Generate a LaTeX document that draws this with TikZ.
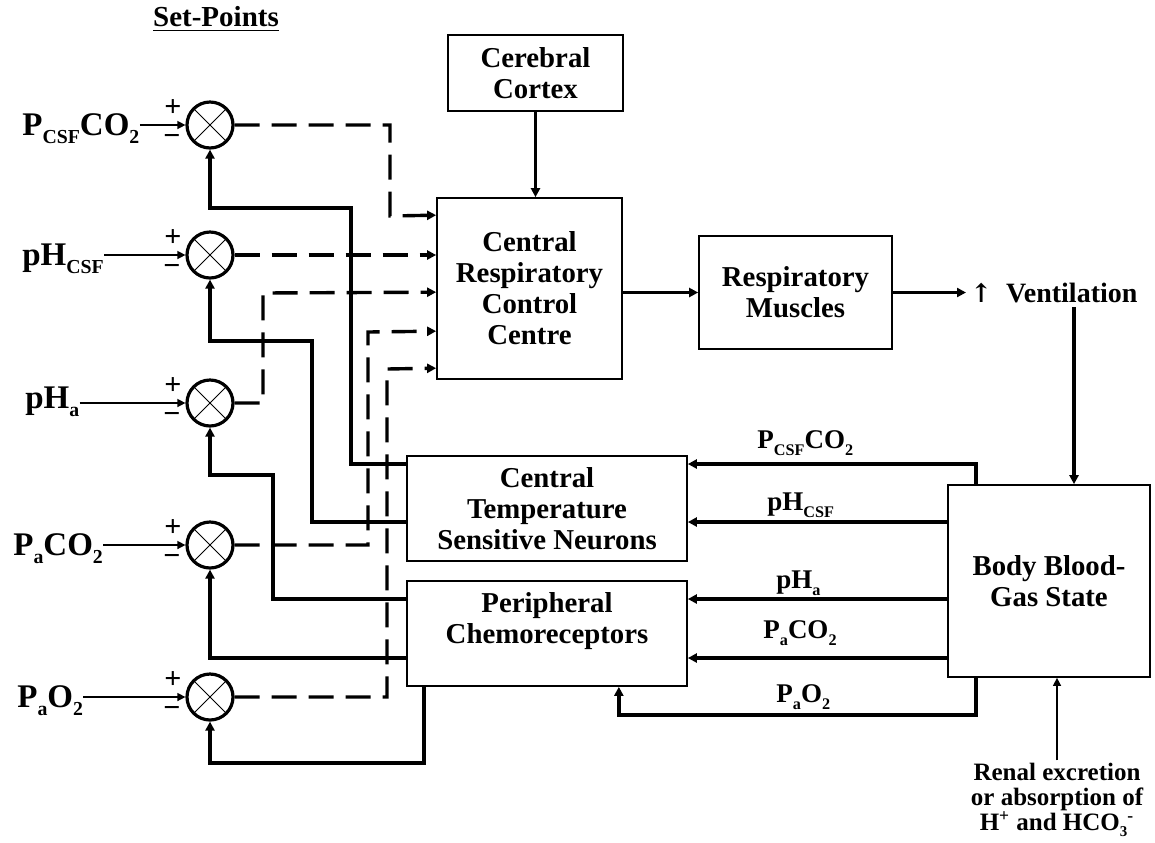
\documentclass[tikz,border=0pt]{standalone}
\usepackage{fontspec}
\setmainfont{Liberation Serif}
\newfontfamily\arrowfont{DejaVu Serif}
\usetikzlibrary{arrows.meta}

\newcommand{\lo}[1]{\raisebox{-0.27em}{\fontsize{0.6em}{0.6em}\selectfont #1}}
\newcommand{\renalfont}{\bfseries\fontsize{12.5}{12.5}\selectfont}

\begin{document}
\begin{tikzpicture}[
  x=0.5pt, y=-0.5pt,
  >={Triangle[length=4.5pt,width=4.5pt]},
  every node/.style={font=\bfseries\fontsize{14.4}{15.5}\selectfont, inner sep=1pt},
  block/.style={draw, line width=0.85pt, align=center, inner sep=0pt},
  sum/.style={circle, draw, line width=1.6pt, minimum size=23pt, inner sep=0pt,
    path picture={\draw[line width=0.4pt]
      (path picture bounding box.north west) -- (path picture bounding box.south east)
      (path picture bounding box.north east) -- (path picture bounding box.south west);}},
  sign/.style={font=\bfseries\fontsize{15}{15}\selectfont, inner sep=0pt},
  setlabel/.style={font=\bfseries\fontsize{16.5}{18}\selectfont, anchor=base west, inner sep=0pt},
  siglabel/.style={font=\bfseries\fontsize{13.5}{15}\selectfont, anchor=base west, inner sep=0pt},
  signal/.style={line width=1.7pt},
  neural/.style={line width=1.7pt, dash pattern=on 12.5pt off 6pt},
  input/.style={line width=0.7pt, >={Triangle[length=4pt,width=4pt]}},
]
\useasboundingbox (0,0) rectangle (1155,842);

\node[font=\bfseries\fontsize{14.5}{16}\selectfont] (setpts) at (216,19) {\underline{Set-Points}};

% comparators
\foreach \n/\y in {1/125,2/255,3/403,4/545,5/697}{
  \node[sum] (s\n) at (210,\y) {};
  \node[sign] (p\n) at ([xshift=-18.5pt,yshift=8.5pt]s\n.center) {+};
  \node[sign] (m\n) at ([xshift=-19pt,yshift=-7.5pt]s\n.center) {−};
}

\node[setlabel] (in1) at (22,135) {P\lo{CSF}CO\lo{2}};
\node[setlabel] (in2) at (22,265) {pH\lo{CSF}};
\node[setlabel] (in3) at (25,408) {pH\lo{a}};
\node[setlabel] (in4) at (13,555) {P\lo{a}CO\lo{2}};
\node[setlabel] (in5) at (17,707) {P\lo{a}O\lo{2}};
\foreach \n in {1,...,5}
  \draw[input,->] (in\n.east |- s\n.west) -- (s\n.west);

% blocks
\node[block, minimum width=87.5pt, minimum height=38pt] (cortex) at (535.5,73) {Cerebral\\Cortex};
\node[block, minimum width=92.5pt, minimum height=90.5pt] (crcc) at (529.5,288.5) {Central\\Respiratory\\Control\\Centre};
\node[block, minimum width=96.5pt, minimum height=56.5pt] (muscles) at (795.5,292.5) {Respiratory\\Muscles};
\node[block, minimum width=140pt, minimum height=52.5pt] (ctsn) at (547,508.5) {Central\\Temperature\\Sensitive Neurons};
\node[block, minimum width=140pt, minimum height=52.5pt] (pc) at (547,633.5) {Peripheral\\Chemoreceptors\\\mbox{}};
\node[block, minimum width=101pt, minimum height=96pt] (bbgs) at (1049,581) {Body Blood-\\Gas State};

\node[anchor=west, inner sep=2pt, font=\bfseries\fontsize{14}{15}\selectfont] (vent) at (966,292.5)
  {{\arrowfont\fontsize{13}{13}\selectfont ↑}\hspace{7pt}Ventilation};
\node[align=center, font=\renalfont] (renal) at (1057,800)
  {Renal excretion\\or absorption of\\H\textsuperscript{+} and HCO\lo{3}\textsuperscript{-}};

\node[siglabel] (r1) at (757,448) {P\lo{CSF}CO\lo{2}};
\node[siglabel] (r2) at (767,510) {pH\lo{CSF}};
\node[siglabel] (r3) at (776,588) {pH\lo{a}};
\node[siglabel] (r4) at (763,638) {P\lo{a}CO\lo{2}};
\node[siglabel] (r5) at (776,702) {P\lo{a}O\lo{2}};

\coordinate (csfco2) at (0,464);
\coordinate (phcsf) at (0,522);
\coordinate (pha) at (0,599);
\coordinate (paco2) at (0,658);
\coordinate (vdrop) at ([xshift=12.5pt]bbgs.north);

% forward path
\draw[signal,->] (cortex.south) -- (cortex.south |- crcc.north);
\draw[signal,->] (crcc.east |- muscles.west) -- (muscles.west);
\draw[signal,->] (muscles.east) -- (vent.west);
\draw[signal,->] (vent.south -| vdrop) -- (vdrop);
\draw[input,->] (renal.north) -- (renal.north |- bbgs.south);

% body state to receptors
\draw[signal,->] ([xshift=14.5pt]bbgs.north west) |- (ctsn.east |- csfco2);
\draw[signal,->] (bbgs.west |- phcsf) -- (ctsn.east |- phcsf);
\draw[signal,->] (bbgs.west |- pha) -- (pc.east |- pha);
\draw[signal,->] (bbgs.west |- paco2) -- (pc.east |- paco2);
\draw[signal,->] ([xshift=14.5pt]bbgs.south west) |- ([xshift=-34.5pt,yshift=-14pt]pc.south east) -- ([xshift=-34.5pt]pc.south east);

% receptors back to comparators
\draw[signal,->] (ctsn.west |- csfco2) -| (351,208) -| (s1.south);
\draw[signal,->] (ctsn.west |- phcsf) -| (312,341) -| (s2.south);
\draw[signal,->] (pc.west |- pha) -| (273,475) -| (s3.south);
\draw[signal,->] (pc.west |- paco2) -| (s4.south);
\draw[signal,->] ([xshift=9pt]pc.south west) -- ++(0,76) -| (s5.south);

% comparators to control centre
\draw[neural,->] (s1.east) -| (390,216) -- ([yshift=-9pt]crcc.north west);
\draw[neural,->] (s2.east) -- (crcc.west |- s2.east);
\draw[neural,->] (s3.east) -| (263,293) -- ([yshift=-47.5pt]crcc.north west);
\draw[neural,->] (s4.east) -| (368,332) -- ([yshift=-67pt]crcc.north west);
\draw[neural,->] (s5.east) -| (387,369) -- ([yshift=-85.5pt]crcc.north west);
\end{tikzpicture}
\end{document}
